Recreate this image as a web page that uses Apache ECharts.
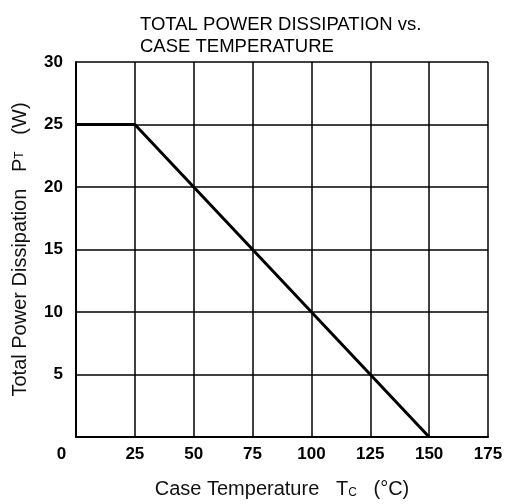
<!DOCTYPE html>
<html>
<head>
<meta charset="utf-8">
<script src="https://cdn.jsdelivr.net/npm/echarts@6/dist/echarts.min.js"></script>
<style>
	html, body { margin: 0; padding: 0; background: #fff; }
	#chart { width: 507px; height: 504px; }
</style>
</head>
<body>
<div id="chart"></div>
<script>
	// derating curve: temperature (°C) vs power (W)
	var caseTemp = [0, 25, 150];
	var powerW = [25, 25, 0];
	var xTicks = [0, 25, 50, 75, 100, 125, 150, 175];
	var yTicks = [0, 5, 10, 15, 20, 25, 30];

	var pts = caseTemp.map(function (t, i) { return [t, powerW[i]]; });
	var font = 'Liberation Sans, Arial, sans-serif';

	var myChart = echarts.init(document.getElementById('chart'));
	var option = {
		animation: false,
		title: {
			text: 'TOTAL POWER DISSIPATION vs.\nCASE TEMPERATURE',
			left: 135,
			top: 9,
			textStyle: { fontFamily: font, fontSize: 18.5, fontWeight: 'normal', color: '#000', lineHeight: 22 }
		},
		grid: { left: 76, right: 19, top: 62, bottom: 64 },
		xAxis: {
			type: 'value',
			min: xTicks[0],
			max: xTicks[xTicks.length - 1],
			interval: 25,
			axisLine: { lineStyle: { color: '#000', width: 2 } },
			axisTick: { show: false },
			splitLine: { lineStyle: { color: '#000', width: 1.5 } },
			axisLabel: {
				margin: 9,
				color: '#000',
				fontFamily: font,
				fontSize: 17,
				fontWeight: 'bold',
				formatter: function (v) { return v === 0 ? '{z|0}' : String(v); },
				rich: { z: { fontFamily: font, fontSize: 17, fontWeight: 'bold', color: '#000', padding: [0, 29, 0, 0] } }
			},
			name: 'Case Temperature   T{s|C}   (°C)',
			nameLocation: 'middle',
			nameGap: 42,
			nameTextStyle: {
				fontFamily: font, fontSize: 20, color: '#111',
				rich: { s: { fontFamily: font, fontSize: 12, color: '#111', verticalAlign: 'bottom', padding: [5, 0, 0, 0] } }
			}
		},
		yAxis: {
			type: 'value',
			min: yTicks[0],
			max: yTicks[yTicks.length - 1],
			interval: 5,
			axisLine: { lineStyle: { color: '#000', width: 2 } },
			axisTick: { show: false },
			splitLine: { lineStyle: { color: '#000', width: 1.5 } },
			axisLabel: {
				margin: 13,
				color: '#000',
				fontFamily: font,
				fontSize: 17,
				fontWeight: 'bold',
				formatter: function (v) { return v === 0 ? '' : String(v); }
			},
			name: 'Total Power Dissipation   P{s|T}   (W)',
			nameLocation: 'middle',
			nameGap: 46,
			nameTextStyle: {
				fontFamily: font, fontSize: 20, color: '#111',
				rich: { s: { fontFamily: font, fontSize: 12, color: '#111' } }
			}
		},
		series: [{
			type: 'line',
			data: pts,
			symbol: 'none',
			lineStyle: { color: '#000', width: 3 }
		}]
	};
	myChart.setOption(option);
</script>
</body>
</html>
